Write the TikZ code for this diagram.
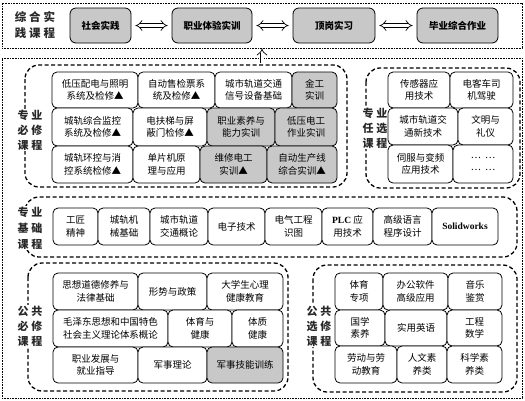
\documentclass[tikz,border=0pt]{standalone}
\usepackage{fontspec}
\setmainfont{Noto Sans CJK SC}
\newfontfamily\latinserif{Liberation Serif}
\usetikzlibrary{arrows.meta}
\definecolor{cellgray}{RGB}{200,200,200}
\definecolor{labelink}{RGB}{40,40,40}
\newcommand\lsp{\hspace{3pt}}
\tikzset{
 cell/.style={draw, line width=0.8pt, rounded corners=5pt, inner sep=0pt, align=center, font=\fontsize{9.5}{12.5}\selectfont},
 graycell/.style={cell, fill=cellgray},
 whitecell/.style={cell, fill=white},
 topbox/.style={draw, line width=0.8pt, rounded corners=6pt, fill=cellgray, align=center, font=\fontsize{9.5}{12}\selectfont\bfseries},
 groupframe/.style={line width=1.3pt, dash pattern=on 4pt off 2.5pt, rounded corners=14pt},
 outerframe/.style={draw, line width=0.8pt, dash pattern=on 0.8pt off 0.8pt, inner sep=0pt},
 grouplabel/.style={fill=white, inner sep=1pt, align=center, font=\fontsize{11}{15}\selectfont\bfseries, text=labelink},
 hollow/.style={double, double distance=3pt, line width=0.7pt, {Implies}-{Implies}, shorten >=4pt, shorten <=4pt},
 hollowup/.style={double, double distance=3pt, line width=0.7pt, -{Implies}},
}
\newcommand\mkcell[7]{\node[#1, minimum width={(#4-#3)*1pt}, minimum height={(#6-#5)*1pt}] (#2) at ({(#3+#4)/2},{(#5+#6)/2}) {#7};}
\begin{document}
\begin{tikzpicture}[x=1pt,y=-1pt]
\useasboundingbox (0,0) rectangle (525,400);
% outer frames
\node[outerframe, minimum width=520pt, minimum height=45pt] (topframe) at (262,25.5) {};
\node[outerframe, minimum width=520pt, minimum height=340pt] (mainframe) at (262,228) {};
% top row
\node[grouplabel, font=\fontsize{11.5}{16}\selectfont\bfseries] (lbltop) at (35,25) {综\lsp 合\lsp 实\\践\lsp 课\lsp 程};
\mkcell{topbox}{t1}{70}{131}{8}{43}{社会实践}
\mkcell{topbox}{t2}{172}{252}{8}{43}{职业体验实训}
\mkcell{topbox}{t3}{293}{375}{8}{43}{顶岗实习}
\mkcell{topbox}{t4}{417}{498}{8}{43}{毕业综合作业}
\draw[hollow] (t1) -- (t2);
\draw[hollow] (t2) -- (t3);
\draw[hollow] (t3) -- (t4);
\coordinate (vbase) at (262,63);
\draw[hollowup] (vbase) -- (vbase |- topframe.south);
% group frames
\draw[groupframe] (25,65) rectangle (347,187);
\draw[groupframe] (366,68) rectangle (520,188);
\draw[groupframe] (25,197) rectangle (517,257);
\draw[groupframe] (28,263) rectangle (288,391);
\draw[groupframe] (313,265) rectangle (517,392);
\node[grouplabel] (lblm) at (30,130) {专\lsp 业\\必\lsp 修\\课\lsp 程};
\node[grouplabel] (lble) at (375,128) {专\lsp 业\\任\lsp 选\\课\lsp 程};
\node[grouplabel, font=\fontsize{11}{16}\selectfont\bfseries] (lblb) at (30,228) {专\lsp 业\\基\lsp 础\\课\lsp 程};
\node[grouplabel] (lblp) at (30,326) {公\lsp 共\\必\lsp 修\\课\lsp 程};
\node[grouplabel] (lblq) at (319,326) {公\lsp 共\\选\lsp 修\\课\lsp 程};
% professional required
\mkcell{whitecell}{m11}{52}{138}{72}{108}{低压配电与照明\\系统及检修▲}
\mkcell{whitecell}{m12}{138}{215}{72}{108}{自动售检票系\\统及检修▲}
\mkcell{whitecell}{m13}{215}{292}{72}{108}{城市轨道交通\\信号设备基础}
\mkcell{graycell}{m14}{292}{337}{72}{108}{金工\\实训}
\mkcell{whitecell}{m21}{52}{133}{108}{146}{城轨综合监控\\系统及检修▲}
\mkcell{whitecell}{m22}{133}{207}{108}{146}{电扶梯与屏\\蔽门检修▲}
\mkcell{graycell}{m23}{207}{275}{108}{146}{职业素养与\\能力实训}
\mkcell{graycell}{m24}{275}{337}{108}{146}{低压电工\\作业实训}
\mkcell{whitecell}{m31}{52}{133}{146}{183}{城轨环控与消\\控系统检修▲}
\mkcell{whitecell}{m32}{133}{200}{146}{183}{单片机原\\理与应用}
\mkcell{graycell}{m33}{200}{267}{146}{183}{维修电工\\实训▲}
\mkcell{graycell}{m34}{267}{337}{146}{183}{自动生产线\\综合实训▲}
% professional elective
\mkcell{whitecell}{e11}{388}{450}{72}{108}{传感器应\\用技术}
\mkcell{whitecell}{e12}{450}{513}{72}{108}{电客车司\\机驾驶}
\mkcell{whitecell}{e21}{388}{458}{108}{145}{城市轨道交\\通新技术}
\mkcell{whitecell}{e22}{458}{513}{108}{145}{文明与\\礼仪}
\mkcell{whitecell}{e31}{388}{453}{145}{183}{伺服与变频\\应用技术}
\mkcell{whitecell}{e32}{453}{513}{145}{183}{…\ \ …\\…\ \ …}
% professional basic
\mkcell{whitecell}{b1}{53}{98}{208}{245}{工匠\\精神}
\mkcell{whitecell}{b2}{98}{150}{208}{245}{城轨机\\械基础}
\mkcell{whitecell}{b3}{150}{208}{208}{245}{城市轨道\\交通概论}
\mkcell{whitecell}{b4}{208}{265}{208}{245}{电子技术}
\mkcell{whitecell}{b5}{265}{322}{208}{245}{电气工程\\识图}
\mkcell{whitecell}{b6}{322}{373}{208}{245}{{\latinserif\bfseries PLC} 应\\用技术}
\mkcell{whitecell}{b7}{373}{432}{208}{245}{高级语言\\程序设计}
\mkcell{whitecell}{b8}{432}{498}{208}{245}{\latinserif\bfseries Solidworks}
% public required
\mkcell{whitecell}{p11}{53}{138}{273}{310}{思想道德修养与\\法律基础}
\mkcell{whitecell}{p12}{138}{207}{273}{310}{形势与政策}
\mkcell{whitecell}{p13}{207}{283}{273}{310}{大学生心理\\健康教育}
\mkcell{whitecell}{p21}{53}{168}{310}{347}{毛泽东思想和中国特色\\社会主义理论体系概论}
\mkcell{whitecell}{p22}{168}{232}{310}{347}{体育与\\健康}
\mkcell{whitecell}{p23}{232}{283}{310}{347}{体质\\健康}
\mkcell{whitecell}{p31}{53}{138}{347}{383}{职业发展与\\就业指导}
\mkcell{whitecell}{p32}{138}{207}{347}{383}{军事理论}
\mkcell{graycell}{p33}{207}{283}{347}{383}{军事技能训练}
% public elective
\mkcell{whitecell}{q11}{335}{383}{273}{310}{体育\\专项}
\mkcell{whitecell}{q12}{383}{448}{273}{310}{办公软件\\高级应用}
\mkcell{whitecell}{q13}{448}{502}{273}{310}{音乐\\鉴赏}
\mkcell{whitecell}{q21}{335}{385}{310}{346}{国学\\素养}
\mkcell{whitecell}{q22}{385}{447}{310}{346}{实用英语}
\mkcell{whitecell}{q23}{447}{502}{310}{346}{工程\\数学}
\mkcell{whitecell}{q31}{335}{397}{346}{383}{劳动与劳\\动教育}
\mkcell{whitecell}{q32}{397}{447}{346}{383}{人文素\\养类}
\mkcell{whitecell}{q33}{447}{502}{346}{383}{科学素\\养类}
\end{tikzpicture}
\end{document}
